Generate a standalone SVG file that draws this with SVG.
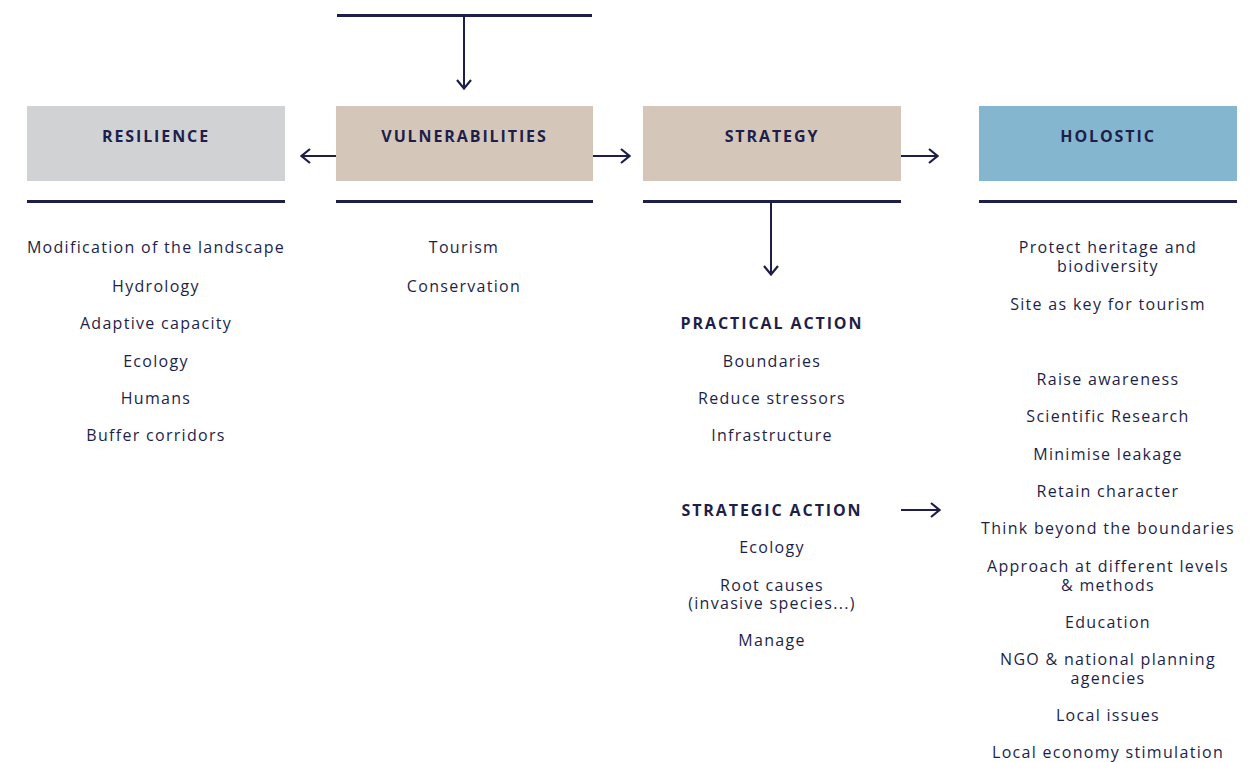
<svg xmlns="http://www.w3.org/2000/svg" width="1257" height="762" viewBox="0 0 1257 762">
<defs>
<marker id="ah" viewBox="0 0 12 16" refX="11" refY="8" markerWidth="12" markerHeight="16" markerUnits="userSpaceOnUse" orient="auto">
<polyline points="2,1 10.5,8 2,15" fill="none" stroke="#1d1f4a" stroke-width="2.2"/>
</marker>
<style>
.t{font-family:"Open Sans","Liberation Sans",sans-serif;font-size:16px;fill:#1d1f4a;text-anchor:middle;letter-spacing:1.3px}
.h{font-family:"Open Sans","Liberation Sans",sans-serif;font-size:16px;font-weight:bold;fill:#1d1f4a;text-anchor:middle;letter-spacing:1.9px}
.rule{stroke:#1d1f4a;stroke-width:3;fill:none}
.c{stroke:#1d1f4a;stroke-width:2;fill:none;marker-end:url(#ah)}
</style>
</defs>
<g id="connectors">
<line class="rule" x1="337" y1="15.5" x2="592" y2="15.5"/>
<line class="c" x1="464" y1="16" x2="464" y2="89"/>
<line class="c" x1="336" y1="156" x2="301" y2="156"/>
<line class="c" x1="593" y1="156" x2="630" y2="156"/>
<line class="c" x1="901" y1="156" x2="938" y2="156"/>
<line class="c" x1="771" y1="202" x2="771" y2="275"/>
<line class="c" x1="901" y1="510" x2="940" y2="510"/>
</g>
<g id="resilience">
<rect x="27" y="106" width="258" height="75" fill="#d1d2d4"/>
<text class="h" x="156" y="142">RESILIENCE</text>
<line class="rule" x1="27" y1="201.5" x2="285" y2="201.5"/>
<text class="t" x="156" y="253">Modification of the landscape</text>
<text class="t" x="156" y="292">Hydrology</text>
<text class="t" x="156" y="329">Adaptive capacity</text>
<text class="t" x="156" y="367">Ecology</text>
<text class="t" x="156" y="404">Humans</text>
<text class="t" x="156" y="441">Buffer corridors</text>
</g>
<g id="vulnerabilities">
<rect x="336" y="106" width="257" height="75" fill="#d5c6ba"/>
<text class="h" x="464.5" y="142">VULNERABILITIES</text>
<line class="rule" x1="336" y1="201.5" x2="593" y2="201.5"/>
<text class="t" x="464" y="253">Tourism</text>
<text class="t" x="464" y="292">Conservation</text>
</g>
<g id="strategy">
<rect x="643" y="106" width="258" height="75" fill="#d5c6ba"/>
<text class="h" x="772" y="142">STRATEGY</text>
<line class="rule" x1="643" y1="201.5" x2="901" y2="201.5"/>
<text class="h" x="772" y="329">PRACTICAL ACTION</text>
<text class="t" x="772" y="367">Boundaries</text>
<text class="t" x="772" y="404">Reduce stressors</text>
<text class="t" x="772" y="441">Infrastructure</text>
<text class="h" x="772" y="516">STRATEGIC ACTION</text>
<text class="t" x="772" y="553">Ecology</text>
<text class="t" x="772" y="591">Root causes<tspan x="772" y="609">(invasive species...)</tspan></text>
<text class="t" x="772" y="646">Manage</text>
</g>
<g id="holostic">
<rect x="979" y="106" width="258" height="75" fill="#85b6d0"/>
<text class="h" x="1108" y="142">HOLOSTIC</text>
<line class="rule" x1="979" y1="201.5" x2="1237" y2="201.5"/>
<text class="t" x="1108" y="253">Protect heritage and<tspan x="1108" y="272">biodiversity</tspan></text>
<text class="t" x="1108" y="310">Site as key for tourism</text>
<text class="t" x="1108" y="385">Raise awareness</text>
<text class="t" x="1108" y="422">Scientific Research</text>
<text class="t" x="1108" y="460">Minimise leakage</text>
<text class="t" x="1108" y="497">Retain character</text>
<text class="t" x="1108" y="534">Think beyond the boundaries</text>
<text class="t" x="1108" y="572">Approach at different levels<tspan x="1108" y="591">&amp; methods</tspan></text>
<text class="t" x="1108" y="628">Education</text>
<text class="t" x="1108" y="665">NGO &amp; national planning<tspan x="1108" y="684">agencies</tspan></text>
<text class="t" x="1108" y="721">Local issues</text>
<text class="t" x="1108" y="758">Local economy stimulation</text>
</g>
</svg>
